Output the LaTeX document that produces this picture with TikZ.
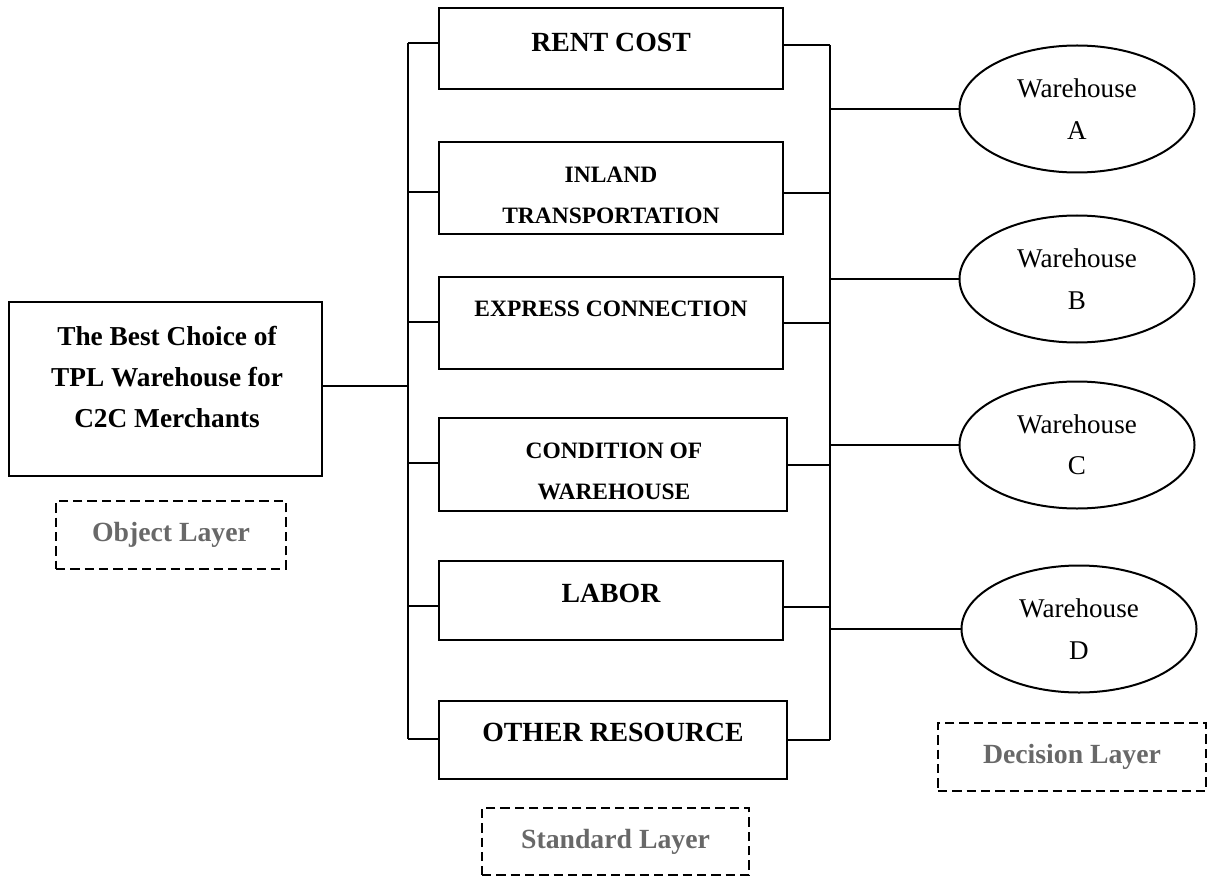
\documentclass[tikz,border=0pt]{standalone}
\usepackage{fontspec}
\setmainfont{Liberation Serif}
\usetikzlibrary{shapes.geometric,calc}
\definecolor{layergray}{RGB}{104,104,104}
\begin{document}
\begin{tikzpicture}[x=0.75pt,y=-0.75pt,
  wire/.style={line width=1.5pt},
  plainbox/.style={draw, line width=1.5pt, inner sep=0pt},
  bigcap/.style={font=\fontsize{20.8}{31}\selectfont\bfseries, align=center, inner sep=0pt},
  smallcap/.style={font=\fontsize{17.6}{31}\selectfont\bfseries, align=center, inner sep=0pt},
  goaltext/.style={font=\fontsize{20.5}{31}\selectfont\bfseries, align=center, inner sep=0pt},
  option/.style={draw, ellipse, line width=1.5pt, inner sep=0pt,
    minimum width=176.25pt, minimum height=95.25pt,
    font=\fontsize{20.3}{31}\selectfont, align=center},
  layer/.style={draw, line width=2.2pt, dash pattern=on 7pt off 3.75pt,
    inner sep=0pt, text=layergray, font=\fontsize{20.8}{31}\selectfont\bfseries}
]
\useasboundingbox (0,0) rectangle (1209,877);

% object layer
\node[plainbox, minimum width=234.75pt, minimum height=130.5pt] (goal) at (165.5,389) {};
\node[goaltext] (goalT) at (167,377) {The Best Choice of\\TPL Warehouse for\\C2C Merchants};
\node[layer, minimum width=172.5pt, minimum height=51pt] (objL) at (171,535) {Object Layer};

% standard layer
\node[plainbox, minimum width=258pt, minimum height=60.75pt] (rent) at (611,48.5) {};
\node[bigcap] (rentT) at (611,42) {RENT COST};
\node[plainbox, minimum width=258pt, minimum height=69pt] (inland) at (611,188) {};
\node[smallcap] (inlandT) at (611,195.5) {INLAND\\TRANSPORTATION};
\node[plainbox, minimum width=258pt, minimum height=69pt] (express) at (611,323) {};
\node[smallcap] (expressT) at (611,309) {EXPRESS CONNECTION};
\node[plainbox, minimum width=261pt, minimum height=69.75pt] (cond) at (613,464.5) {};
\node[smallcap] (condT) at (614,471.5) {CONDITION OF\\WAREHOUSE};
\node[plainbox, minimum width=258pt, minimum height=59.25pt] (labor) at (611,600.5) {};
\node[bigcap] (laborT) at (611,593) {LABOR};
\node[plainbox, minimum width=261pt, minimum height=58.5pt] (other) at (613,740) {};
\node[bigcap] (otherT) at (613,732) {OTHER RESOURCE};
\node[layer, minimum width=200.25pt, minimum height=50.25pt] (stdL) at (615.5,841.5) {Standard Layer};

% decision layer
\node[option] (wA) at (1077,109) {Warehouse\\A};
\node[option] (wB) at (1077,279) {Warehouse\\B};
\node[option] (wC) at (1077,445) {Warehouse\\C};
\node[option] (wD) at (1079,629) {Warehouse\\D};
\node[layer, minimum width=201pt, minimum height=51pt] (decL) at (1072,757) {Decision Layer};

% bus lines
\coordinate (busL) at (408,0);
\coordinate (busR) at (830,0);

% tick points on the criteria boxes
\coordinate (lt1) at ($(rent.west)+(0,-5.5)$);
\coordinate (lt2) at ($(inland.west)+(0,4)$);
\coordinate (lt3) at ($(express.west)+(0,-1)$);
\coordinate (lt4) at ($(cond.west)+(0,-1.5)$);
\coordinate (lt5) at ($(labor.west)+(0,5.5)$);
\coordinate (lt6) at ($(other.west)+(0,-1)$);
\coordinate (rt1) at ($(rent.east)+(0,-3.5)$);
\coordinate (rt2) at ($(inland.east)+(0,5)$);
\coordinate (rt3) at ($(express.east)+(0,0)$);
\coordinate (rt4) at ($(cond.east)+(0,0.5)$);
\coordinate (rt5) at ($(labor.east)+(0,6.5)$);
\coordinate (rt6) at ($(other.east)+(0,0)$);
\coordinate (gt) at ($(goal.east)+(0,-3)$);

% left bus and its branches
\draw[wire] (lt1 -| busL) -- (lt6 -| busL);
\foreach \t in {lt1,lt2,lt3,lt4,lt5,lt6}
  \draw[wire] (\t) -- (\t -| busL);
\draw[wire] (gt) -- (gt -| busL);

% right bus and its branches
\draw[wire] (rt1 -| busR) -- (rt6 -| busR);
\foreach \t in {rt1,rt2,rt3,rt4,rt5,rt6}
  \draw[wire] (\t) -- (\t -| busR);
\foreach \w in {wA,wB,wC,wD}
  \draw[wire] (\w.west -| busR) -- (\w.west);
\end{tikzpicture}
\end{document}
